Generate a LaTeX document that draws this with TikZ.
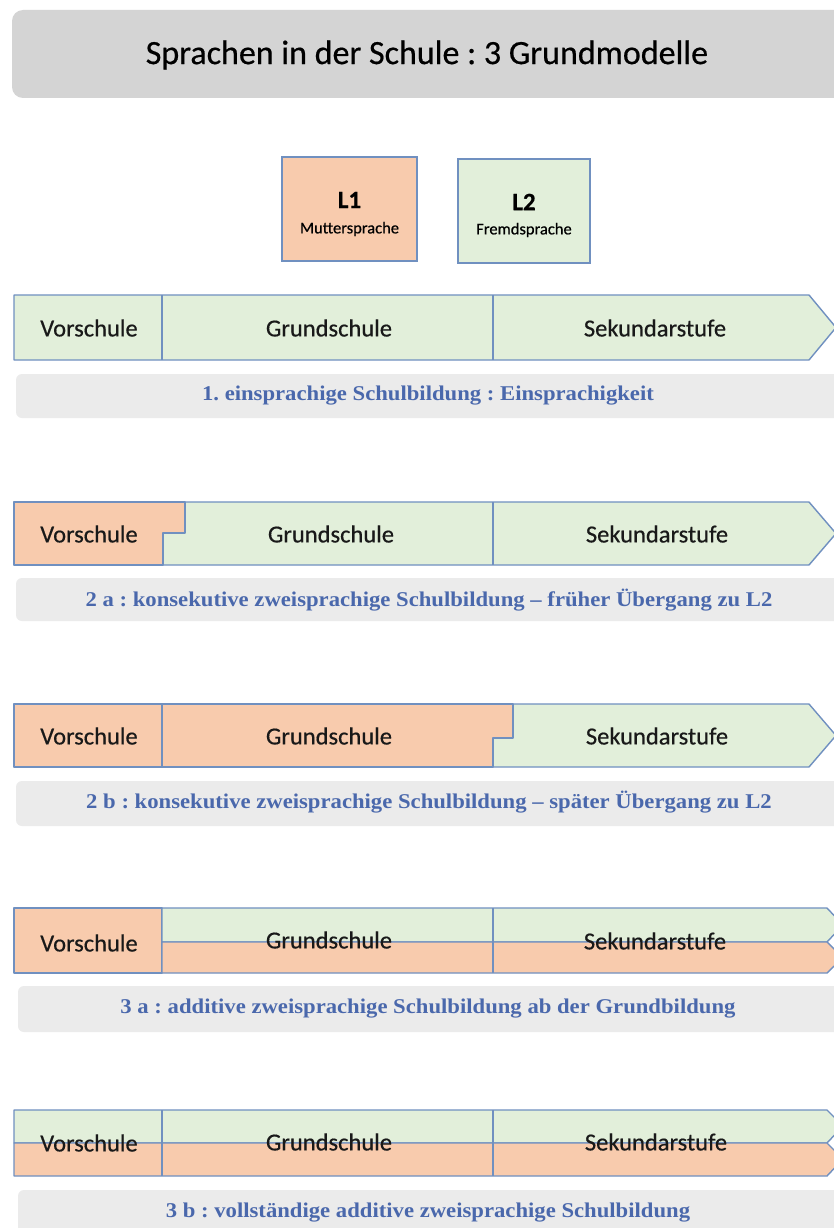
\documentclass[tikz,border=0pt]{standalone}
\usepackage{fontspec}
\setmainfont{Carlito}
\newfontfamily\barfont[FakeBold=0.5]{Carlito}
\newfontfamily\labfont[FakeStretch=1.08]{Liberation Serif}
\definecolor{peachc}{HTML}{F8CBAD}
\definecolor{greenc}{HTML}{E2EFDA}
\definecolor{edgec}{HTML}{7090C0}
\definecolor{titlegray}{HTML}{D4D4D4}
\definecolor{capgray}{HTML}{EBEBEB}
\definecolor{capc}{HTML}{4A68AC}
\frenchspacing
\tikzset{
  peachfill/.style={fill=peachc, draw=edgec, line width=1.4pt, line join=round},
  greenfill/.style={fill=greenc, draw=edgec, line width=1.4pt, line join=round},
  divider/.style={draw=edgec, line width=1.4pt},
  barlbl/.style={font=\barfont\fontsize{24.5}{26}\selectfont, text=black!90, inner sep=0pt},
  caption/.style={font=\labfont\bfseries\fontsize{21}{23}\selectfont, text=capc, inner sep=0pt},
  capbox/.style={fill=capgray, draw=none, rounded corners=6pt},
  legbox/.style={draw=edgec, line width=1.4pt},
  legbig/.style={font=\barfont\bfseries\fontsize{25}{27}\selectfont, inner sep=0pt},
  legsmall/.style={font=\barfont\fontsize{16.5}{18}\selectfont, inner sep=0pt}
}
\begin{document}
\begin{tikzpicture}[x=1pt,y=-1pt]
\useasboundingbox (0,0) rectangle (834,1228);
\clip (0,0) rectangle (834,1228);
\fill[white] (0,0) rectangle (834,1228);

% title
\fill[titlegray, rounded corners=11pt] (12,10) rectangle (860,98);
\node[font=\barfont\fontsize{34}{36}\selectfont, inner sep=0pt] (title) at (427,55) {Sprachen in der Schule : 3 Grundmodelle};

% legend
\draw[legbox, fill=peachc] (282,157) rectangle (417,261);
\node[legbig] (l1) at (349.5,200) {L1};
\node[legsmall] (l1t) at (349.5,229) {Muttersprache};
\draw[legbox, fill=greenc] (458,159) rectangle (590,263);
\node[legbig] (l2) at (524,202) {L2};
\node[legsmall] (l2t) at (524,230) {Fremdsprache};

% ---------- row 1
\draw[greenfill] (14,295) -- (809,295) -- (836,327.5) -- (809,360) -- (14,360) -- cycle;
\draw[divider] (162,295) -- (162,360);
\draw[divider] (493,295) -- (493,360);
\node[barlbl] (v1) at (89,328) {Vorschule};
\node[barlbl] (g1) at (329,328) {Grundschule};
\node[barlbl] (s1) at (655,328) {Sekundarstufe};
\fill[capbox] (16,374) rectangle (860,418);
\node[caption] (c1) at (428,396) {1. einsprachige Schulbildung : Einsprachigkeit};

% ---------- row 2a
\draw[greenfill] (14,502) -- (809,502) -- (836,533.5) -- (809,565) -- (14,565) -- cycle;
\draw[peachfill] (14,502) -- (185,502) -- (185,533) -- (163,533) -- (163,565) -- (14,565) -- cycle;
\draw[divider] (493,502) -- (493,565);
\node[barlbl] (v2) at (89,534) {Vorschule};
\node[barlbl] (g2) at (331,534) {Grundschule};
\node[barlbl] (s2) at (657,534) {Sekundarstufe};
\fill[capbox] (16,578) rectangle (860,621);
\node[caption] (c2) at (429,600) {2 a : konsekutive zweisprachige Schulbildung – früher Übergang zu L2};

% ---------- row 2b
\draw[greenfill] (14,704) -- (809,704) -- (836,735.5) -- (809,767) -- (14,767) -- cycle;
\draw[peachfill] (14,704) -- (513,704) -- (513,738) -- (493,738) -- (493,767) -- (14,767) -- cycle;
\draw[divider] (162,704) -- (162,767);
\node[barlbl] (v3) at (89,736) {Vorschule};
\node[barlbl] (g3) at (329,736) {Grundschule};
\node[barlbl] (s3) at (657,736) {Sekundarstufe};
\fill[capbox] (16,781) rectangle (860,826);
\node[caption] (c3) at (429,802) {2 b : konsekutive zweisprachige Schulbildung – später Übergang zu L2};

% ---------- row 3a
\draw[peachfill] (14,908) rectangle (162,973);
\draw[greenfill] (162,908) -- (827,908) -- (843,925) -- (827,942) -- (162,942) -- cycle;
\draw[peachfill] (162,942) -- (827,942) -- (843,957.5) -- (827,973) -- (162,973) -- cycle;
\draw[divider] (493,908) -- (493,973);
\node[barlbl] (v4) at (89,943) {Vorschule};
\node[barlbl] (g4) at (329,940) {Grundschule};
\node[barlbl] (s4) at (655,941) {Sekundarstufe};
\fill[capbox] (18,986) rectangle (860,1032);
\node[caption] (c4) at (428,1009) {3 a : additive zweisprachige Schulbildung ab der Grundbildung};

% ---------- row 3b
\draw[greenfill] (14,1110) -- (827,1110) -- (843,1126) -- (827,1143) -- (14,1143) -- cycle;
\draw[peachfill] (14,1143) -- (827,1143) -- (843,1159) -- (827,1176) -- (14,1176) -- cycle;
\draw[divider] (162,1110) -- (162,1176);
\draw[divider] (493,1110) -- (493,1176);
\node[barlbl] (v5) at (89,1143) {Vorschule};
\node[barlbl] (g5) at (329,1142) {Grundschule};
\node[barlbl] (s5) at (656,1142) {Sekundarstufe};
\fill[capbox] (18,1190) rectangle (860,1240);
\node[caption] (c5) at (428,1213) {3 b : vollständige additive zweisprachige Schulbildung};
\end{tikzpicture}
\end{document}
